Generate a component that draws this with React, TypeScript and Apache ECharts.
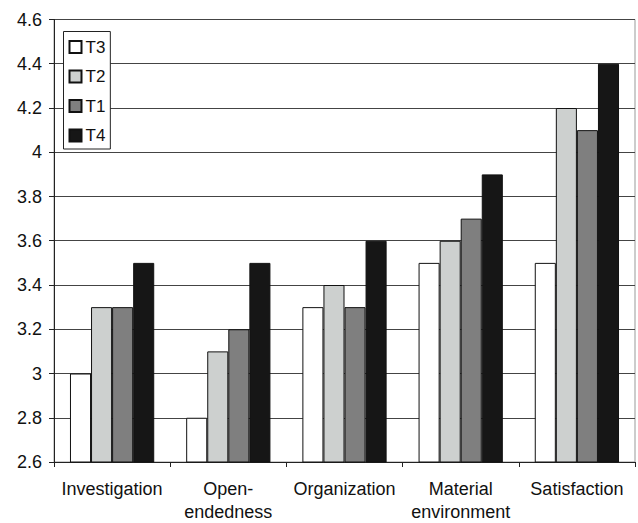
import React, { useEffect, useRef } from "react";
import * as echarts from "echarts";

const categories = ["Investigation", "Open-\nendedness", "Organization", "Material\nenvironment", "Satisfaction"];
const seriesNames = ["T3", "T2", "T1", "T4"];
const t3 = [3.0, 2.8, 3.3, 3.5, 3.5];
const t2 = [3.3, 3.1, 3.4, 3.6, 4.2];
const t1 = [3.3, 3.2, 3.3, 3.7, 4.1];
const t4 = [3.5, 3.5, 3.6, 3.9, 4.4];
const seriesData = [t3, t2, t1, t4];
const colors = ["#ffffff", "#cdd0cf", "#7f7f7f", "#161616"];

export default function App() {
  const ref = useRef<HTMLDivElement>(null);
  useEffect(() => {
    if (!ref.current) return;
    const chart = echarts.init(ref.current, undefined, { renderer: "svg" });
    const font = "Liberation Sans, Arial, sans-serif";
    chart.setOption({
      animation: false,
      backgroundColor: "#ffffff",
      textStyle: { fontFamily: font },
      grid: {
        left: 54,
        right: 3,
        top: 19.5,
        bottom: 57,
        show: true,
        borderColor: "#999",
        borderWidth: 1,
        backgroundColor: "transparent",
      },
      legend: {
        orient: "vertical",
        left: 63.5,
        top: 31.5,
        data: seriesNames,
        icon: "rect",
        itemWidth: 12,
        itemHeight: 12,
        itemGap: 12.5,
        padding: [7, 5, 5, 5],
        borderColor: "#222",
        borderWidth: 1,
        backgroundColor: "#fff",
        textStyle: { fontSize: 17, color: "#111", fontFamily: font, padding: [0, 0, 0, -1] },
      },
      xAxis: {
        type: "category",
        data: categories,
        axisLine: { lineStyle: { color: "#222", width: 1 } },
        axisTick: { show: true, length: 5, lineStyle: { color: "#222" } },
        axisLabel: {
          fontSize: 18,
          color: "#111",
          lineHeight: 23,
          margin: 15,
          interval: 0,
          fontFamily: font,
        },
      },
      yAxis: {
        type: "value",
        min: 2.6,
        max: 4.6,
        interval: 0.2,
        axisLine: { show: true, lineStyle: { color: "#222", width: 1 } },
        axisTick: { show: true, length: 5, lineStyle: { color: "#222" } },
        axisLabel: {
          fontSize: 18,
          color: "#111",
          margin: 12,
          fontFamily: font,
          formatter: (v: number) => String(Math.round(v * 10) / 10),
        },
        splitLine: { show: true, lineStyle: { color: "#444", width: 1 } },
      },
      series: seriesNames.map((name, i) => ({
        name,
        type: "bar",
        data: seriesData[i],
        barGap: "0%",
        barCategoryGap: "27.5%",
        itemStyle: { color: colors[i], borderColor: "#111", borderWidth: 1 },
      })),
    });
    return () => chart.dispose();
  }, []);
  return (
    <div
      ref={ref}
      style={{ position: "fixed", left: 0, top: 0, width: 638, height: 523, background: "#fff" }}
    />
  );
}
